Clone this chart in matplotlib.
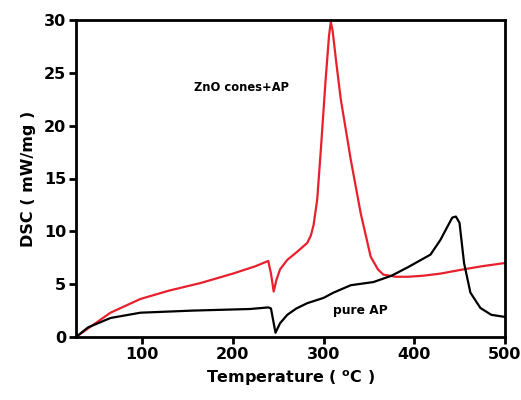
import matplotlib
matplotlib.use("Agg")
import matplotlib.pyplot as plt

plt.rcParams['font.family'] = ['DejaVu Sans']
plt.rcParams['font.weight'] = 'bold'
plt.rcParams['mathtext.default'] = 'bf'

# DSC curve of AP with ZnO cones
znap_temp = [27, 40, 65, 98, 130, 164, 200, 225, 239, 242, 245, 248, 252, 260,
             270, 282, 286, 289, 293, 297, 302, 306, 308, 310, 314, 319, 330,
             341, 352, 360, 366, 380, 393, 410, 429, 451, 475, 500]
znap_dsc = [0.0, 0.8, 2.3, 3.6, 4.4, 5.1, 6.0, 6.7, 7.2, 6.0, 4.3, 5.4, 6.4, 7.3,
            8.0, 8.9, 9.6, 10.6, 13.0, 17.7, 24.0, 28.5, 29.8, 29.0, 26.0, 22.5,
            16.8, 11.7, 7.6, 6.4, 5.9, 5.7, 5.7, 5.8, 6.0, 6.35, 6.7, 7.0]

# DSC curve of pure AP
ap_temp = [27, 40, 65, 98, 156, 219, 239, 242, 247, 252, 260, 270, 282, 300,
           311, 330, 355, 375, 393, 418, 429, 437, 442, 446, 450, 455, 462,
           473, 485, 500]
ap_dsc = [0.0, 0.9, 1.8, 2.3, 2.5, 2.65, 2.8, 2.7, 0.4, 1.3, 2.1, 2.7, 3.2, 3.7,
          4.2, 4.9, 5.2, 5.8, 6.6, 7.8, 9.2, 10.5, 11.3, 11.4, 10.8, 7.0, 4.2,
          2.75, 2.1, 1.9]

x_ticks = [100, 200, 300, 400, 500]
y_ticks = [0, 5, 10, 15, 20, 25, 30]

fig = plt.figure(figsize=(5.21, 4.0), dpi=100)
ax = fig.add_axes([0.146, 0.1575, 0.823, 0.7925])

ax.plot(znap_temp, znap_dsc, color='#e8202e', lw=1.6)
ax.plot(ap_temp, ap_dsc, color='black', lw=1.6)

ax.set_xlim(27, 500)
ax.set_ylim(0, 30)
ax.set_xticks(x_ticks)
ax.set_yticks(y_ticks)

for s in ax.spines.values():
    s.set_linewidth(2.0)
ax.tick_params(axis='both', direction='out', length=5, width=2,
               labelsize=11.5, pad=2)
for lab in ax.get_xticklabels() + ax.get_yticklabels():
    lab.set_fontweight('bold')

ax.set_xlabel('Temperature ( $^{\\mathregular{o}}$C )', fontsize=11.5,
              fontweight='bold', labelpad=5)
ax.set_ylabel('DSC ( mW/mg )', fontsize=11.5, fontweight='bold', labelpad=6)

ax.text(210, 23.6, 'ZnO cones+AP', fontsize=8.3, fontweight='bold',
        ha='center', va='center')
ax.text(341, 2.5, 'pure AP', fontsize=8.8, fontweight='bold',
        ha='center', va='center')

fig.savefig('out.png', dpi=100)
